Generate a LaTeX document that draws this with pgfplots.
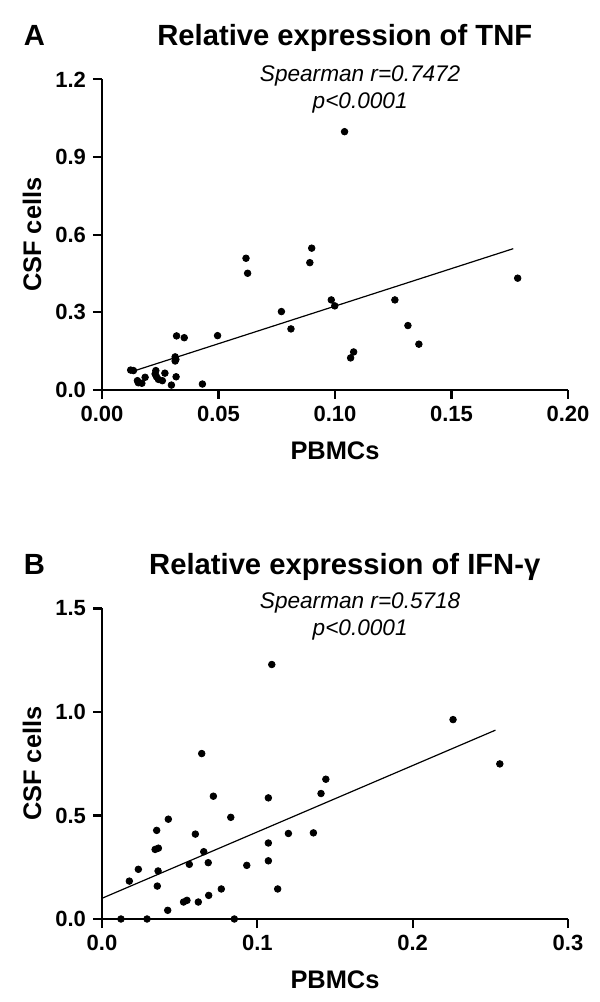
\documentclass[border=0pt]{standalone}
\usepackage{fontspec}
\setmainfont{Liberation Sans}
\usepackage{pgfplots}
\pgfplotsset{compat=1.18}
\pgfplotsset{
  myax/.style={
    scale only axis, width=233pt, height=155.3pt,
    axis lines*=left, enlargelimits=false, clip=false,
    axis line style={line width=1.1pt, black},
    tick align=outside, major tick length=4.5pt,
    tick style={line width=1.1pt, black},
    xtick pos=bottom, ytick pos=left,
    scaled ticks=false,
    /pgf/number format/assume math mode=true,
    ticklabel style={font=\bfseries\fontsize{11}{13}\selectfont},
    xlabel style={at={(axis description cs:0.5,-0.196)}, anchor=center, font=\bfseries\fontsize{12.7}{15}\selectfont},
    ylabel style={at={(axis description cs:-0.150,0.5)}, anchor=center, font=\bfseries\fontsize{12.7}{15}\selectfont},
  },
  dots/.style={only marks, mark=*, mark size=1.65pt, black},
  fit/.style={no marks, black, line width=0.6pt},
}
\begin{document}
\begin{tikzpicture}
\useasboundingbox (0,0) rectangle (300pt,501pt);
% Panel A
\begin{axis}[myax, at={(51pt,306pt)}, anchor=south west,
  xmin=0, xmax=0.2, ymin=0, ymax=1.2,
  xtick={0,0.05,0.1,0.15,0.2}, ytick={0,0.3,0.6,0.9,1.2},
  xticklabel style={/pgf/number format/.cd, fixed, fixed zerofill, precision=2},
  yticklabel style={/pgf/number format/.cd, fixed, fixed zerofill, precision=1},
  xlabel={PBMCs}, ylabel={CSF cells}]
\addplot[dots] table {
x y
0.0123 0.077
0.0135 0.075
0.0152 0.036
0.0171 0.026
0.0156 0.028
0.0185 0.049
0.0231 0.075
0.0234 0.051
0.0228 0.062
0.0242 0.041
0.0259 0.036
0.0270 0.065
0.0298 0.019
0.0318 0.051
0.0314 0.128
0.0317 0.118
0.0314 0.112
0.0320 0.209
0.0353 0.202
0.0431 0.023
0.0496 0.210
0.0618 0.509
0.0625 0.451
0.0900 0.548
0.0892 0.492
0.0770 0.303
0.0811 0.236
0.0984 0.348
0.0999 0.325
0.1080 0.147
0.1067 0.124
0.1257 0.348
0.1313 0.249
0.1360 0.177
0.1041 0.998
0.1784 0.432
};
\addplot[fit] coordinates {(0.0142,0.075) (0.1765,0.546)};
\node[font=\bfseries\fontsize{14.6}{17}\selectfont, anchor=base] at (rel axis cs:-0.145,1.108) {A};
\node[font=\bfseries\fontsize{14.6}{17}\selectfont, anchor=base] at (rel axis cs:0.521,1.108) {Relative expression of TNF};
\node[align=center, font=\itshape\fontsize{11.3}{13.5}\selectfont, anchor=center] at (rel axis cs:0.554,0.966) {Spearman r=0.7472\\p<0.0001};
\end{axis}
% Panel B
\begin{axis}[myax, at={(51pt,41.5pt)}, anchor=south west,
  xmin=0, xmax=0.3, ymin=0, ymax=1.5,
  xtick={0,0.1,0.2,0.3}, ytick={0,0.5,1,1.5},
  xticklabel style={/pgf/number format/.cd, fixed, fixed zerofill, precision=1},
  yticklabel style={/pgf/number format/.cd, fixed, fixed zerofill, precision=1},
  xlabel={PBMCs}, ylabel={CSF cells}]
\addplot[dots] table {
x y
0.0642 0.799
0.1093 1.229
0.0717 0.593
0.0427 0.482
0.0352 0.428
0.0342 0.336
0.0363 0.342
0.0234 0.240
0.0176 0.183
0.0361 0.232
0.0356 0.159
0.0423 0.042
0.0525 0.082
0.0547 0.090
0.0562 0.264
0.0601 0.410
0.0655 0.325
0.0684 0.272
0.0620 0.082
0.0687 0.114
0.0768 0.145
0.0829 0.491
0.0932 0.259
0.0122 0
0.0290 0
0.0852 0
0.1071 0.585
0.1071 0.367
0.1071 0.281
0.1131 0.145
0.1200 0.413
0.1361 0.416
0.1410 0.606
0.1441 0.675
0.2260 0.963
0.2561 0.749
};
\addplot[fit] coordinates {(0,0.100) (0.2533,0.912)};
\node[font=\bfseries\fontsize{14.6}{17}\selectfont, anchor=base] at (rel axis cs:-0.145,1.108) {B};
\node[font=\bfseries\fontsize{14.6}{17}\selectfont, anchor=base] at (rel axis cs:0.521,1.108) {Relative expression of IFN-γ};
\node[align=center, font=\itshape\fontsize{11.3}{13.5}\selectfont, anchor=center] at (rel axis cs:0.554,0.973) {Spearman r=0.5718\\p<0.0001};
\end{axis}
\end{tikzpicture}
\end{document}
